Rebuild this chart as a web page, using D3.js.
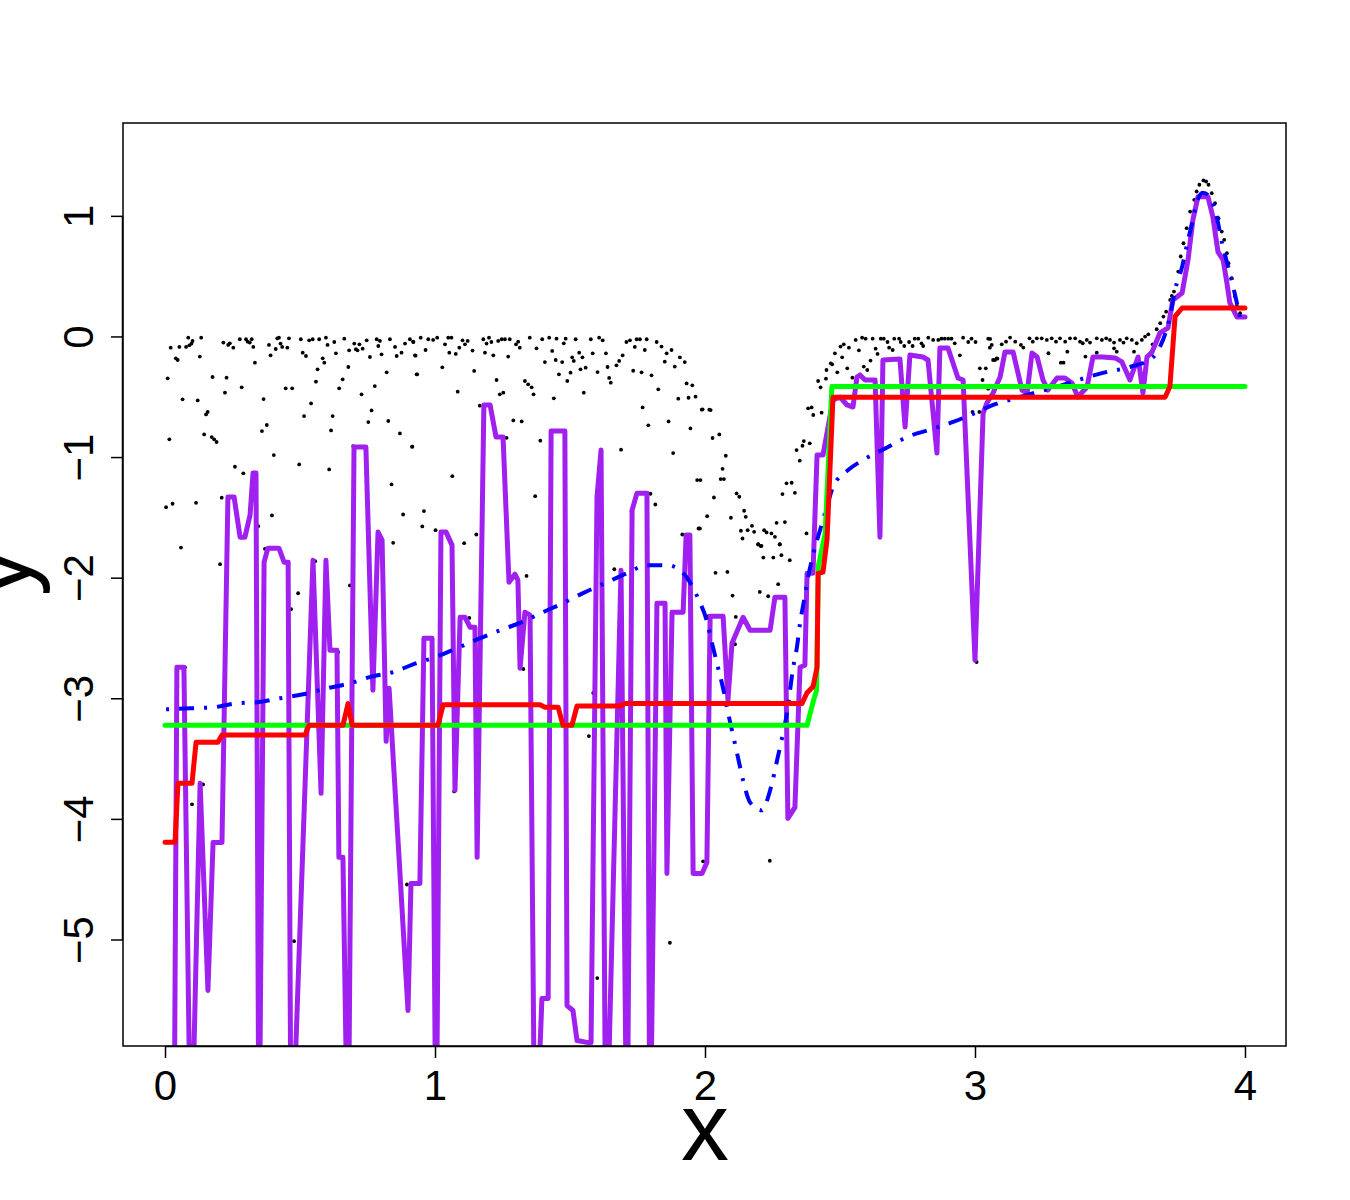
<!DOCTYPE html>
<html>
<head>
<meta charset="utf-8">
<script src="https://cdn.jsdelivr.net/npm/d3@7"></script>
<style>
  body { margin: 0; background: #fff; }
  svg { display: block; }
  text { font-family: "Liberation Sans", Arial, sans-serif; }
</style>
</head>
<body>
<div id="chart"></div>
<script>
// axis ticks
const xTicks = [0, 1, 2, 3, 4];
const yTicks = [-5, -4, -3, -2, -1, 0, 1];

// black points (x, y)
const scatterPts = [
  [0.021,-0.089],[0.040,-0.177],[0.047,-0.191],[0.053,-0.083],[0.078,-0.083],[0.086,-0.006],[0.090,-0.069],[0.098,-0.055],
  [0.102,-0.033],[0.129,-0.163],[0.134,-0.006],[0.216,-0.047],[0.234,-0.066],[0.240,-0.053],[0.253,-0.089],[0.277,-0.019],
  [0.300,-0.019],[0.306,-0.039],[0.314,-0.047],[0.321,-0.019],[0.327,-0.083],[0.333,-0.213],[0.385,-0.066],[0.391,-0.152],
  [0.410,-0.100],[0.416,-0.011],[0.422,-0.006],[0.428,-0.055],[0.434,-0.083],[0.453,-0.089],[0.459,-0.011],[0.503,-0.019],
  [0.510,-0.130],[0.522,-0.158],[0.534,-0.028],[0.547,-0.019],[0.571,-0.019],[0.584,-0.177],[0.590,-0.213],[0.596,-0.006],
  [0.602,-0.066],[0.627,-0.042],[0.633,-0.136],[0.664,-0.014],[0.682,-0.111],[0.701,-0.055],[0.707,-0.102],[0.713,-0.111],
  [0.720,-0.061],[0.732,-0.097],[0.747,-0.028],[0.759,-0.166],[0.784,-0.019],[0.790,-0.075],[0.796,-0.033],[0.802,-0.144],
  [0.833,-0.019],[0.852,-0.083],[0.858,-0.158],[0.876,-0.130],[0.889,-0.055],[0.907,-0.019],[0.920,-0.042],[0.926,-0.152],
  [0.010,-0.343],[0.065,-0.517],[0.121,-0.526],[0.152,-0.642],[0.158,-0.622],[0.176,-0.332],[0.222,-0.462],[0.228,-0.338],
  [0.284,-0.418],[0.365,-0.515],[0.447,-0.426],[0.471,-0.426],[0.541,-0.551],[0.515,-0.656],[0.559,-0.371],[0.565,-0.268],
  [0.621,-0.656],[0.645,-0.426],[0.658,-0.351],[0.679,-0.249],[0.728,-0.476],[0.765,-0.609],[0.777,-0.407],[0.821,-0.293],
  [0.753,-0.706],[0.827,-0.697],[0.932,-0.310],
  [0.016,-0.849],[0.145,-0.808],[0.173,-0.830],[0.182,-0.849],[0.191,-0.871],[0.359,-0.780],[0.377,-0.730],[0.403,-0.979],
  [0.497,-1.057],[0.608,-1.098],[0.615,-0.775],[0.697,-0.905],[0.870,-0.800],[0.915,-0.910],[0.259,-1.076],[0.290,-1.131],
  [0.004,-1.411],[0.028,-1.383],[0.115,-1.375],[0.210,-1.333],[0.265,-1.472],[0.345,-1.569],[0.396,-1.480],[0.370,-1.757],
  [0.059,-1.746],[0.839,-1.223],[0.882,-1.472],[0.845,-1.707],
  [0.204,-1.884],[0.493,-2.125],[0.467,-2.257],[0.341,-2.382],[0.641,-2.614],[0.074,-2.739],[0.819,-3.353],[0.141,-3.710],
  [0.556,-1.859],[0.685,-2.060],[0.100,-3.875],[0.478,-5.010],[0.896,-4.540],
  [0.919,-0.039],[0.928,-0.155],[0.947,-0.006],[0.965,-0.108],[0.975,-0.019],[0.993,-0.025],[1.008,-0.006],[1.037,-0.061],
  [1.049,-0.006],[1.053,-0.130],[1.061,-0.006],[1.077,-0.141],[1.090,-0.089],[1.102,-0.028],[1.111,-0.061],[1.121,-0.033],
  [1.139,-0.113],[1.179,-0.019],[1.185,-0.130],[1.191,-0.055],[1.200,-0.006],[1.209,-0.042],[1.216,-0.152],[1.234,-0.033],
  [1.247,-0.019],[1.259,-0.019],[1.271,-0.163],[1.277,-0.019],[1.300,-0.061],[1.308,-0.039],[1.314,-0.089],[1.351,-0.006],
  [1.376,-0.094],[1.397,-0.019],[1.423,-0.006],[1.434,-0.116],[1.450,-0.014],[1.477,-0.053],[1.484,-0.014],[1.508,-0.169],
  [1.514,-0.199],[1.521,-0.019],[1.534,-0.130],[1.546,-0.169],[1.577,-0.019],[1.584,-0.136],[1.608,-0.006],[1.621,-0.028],
  [1.633,-0.136],[1.639,-0.249],[1.672,-0.235],[1.682,-0.199],[1.695,-0.152],[1.709,-0.042],[1.722,-0.028],[1.740,-0.083],
  [1.747,-0.019],[1.759,-0.019],[1.777,-0.108],[1.784,-0.019],[1.821,-0.042],[1.839,-0.080],[1.858,-0.136],[1.876,-0.108],
  [1.851,-0.205],[1.888,-0.246],[1.907,-0.169],[1.925,-0.208],
  [0.934,-0.310],[1.027,-0.252],[1.084,-0.454],[1.145,-0.282],[1.228,-0.357],[1.240,-0.476],[1.253,-0.462],[1.333,-0.365],
  [1.345,-0.393],[1.358,-0.418],[1.365,-0.476],[1.407,-0.208],[1.447,-0.191],[1.459,-0.310],[1.471,-0.208],[1.490,-0.365],
  [1.502,-0.296],[1.539,-0.268],[1.551,-0.462],[1.558,-0.255],[1.602,-0.291],[1.645,-0.340],[1.651,-0.379],[1.734,-0.280],
  [1.765,-0.293],[1.802,-0.318],[1.827,-0.434],[1.901,-0.512],[1.932,-0.385],[1.953,-0.401],[1.939,-0.504],[1.965,-0.495],
  [1.988,-0.603],[2.016,-0.603],
  [0.916,-0.910],[1.166,-0.570],[1.265,-0.836],[1.290,-0.692],[1.321,-0.700],[1.390,-0.860],[1.440,-0.509],[1.769,-0.584],
  [1.790,-0.733],[1.865,-0.700],[1.946,-0.758],[1.882,-0.963],[1.689,-0.935],[1.064,-1.154],[1.371,-1.320],[0.959,-1.444],
  [0.953,-1.571],[1.002,-1.602],[1.108,-1.710],[1.153,-1.638],[1.971,-1.187],[1.983,-1.187],[2.008,-1.486],[1.976,-1.588],
  [1.816,-1.389],[1.798,-1.300],[1.728,-1.447],[1.916,-1.638],
  [1.339,-1.981],[1.127,-2.330],[1.664,-1.926],[2.012,-2.316],[1.327,-2.753],[1.586,-2.952],[1.570,-3.309],[1.071,-3.768],
  [1.870,-5.023],[1.601,-5.316],[1.993,-4.348],
  [1.991,-0.600],[2.021,-0.606],[2.028,-0.838],[2.053,-0.808],[2.077,-0.985],[2.065,-1.093],[2.058,-1.178],[2.070,-1.178],
  [2.033,-1.331],[1.981,-1.588],[2.096,-1.499],[2.117,-1.297],[2.127,-1.325],[2.145,-1.441],[2.151,-1.491],
  [2.133,-1.607],[2.158,-1.602],[2.174,-1.566],[2.182,-1.616],[2.219,-1.602],[2.228,-1.621],[2.246,-1.629],[2.259,-1.657],
  [2.265,-1.541],[2.296,-1.535],[2.277,-1.721],[2.139,-1.671],[2.197,-1.721],[2.207,-1.735],[2.287,-1.303],[2.302,-1.214],
  [2.321,-1.209],[2.333,-1.292],[2.351,-1.026],[2.339,-0.938],[2.361,-0.902],[2.366,-0.863],[2.388,-0.882],[2.376,-1.629],
  [2.382,-0.592],[2.395,-0.584],[2.401,-0.647],[2.432,-0.628],[2.419,-0.365],[2.428,-0.418],[2.448,-0.346],[2.450,-0.274],
  [2.466,-0.219],[2.471,-0.227],[2.481,-0.136],[2.490,-0.293],[2.508,-0.169],[2.502,-0.080],[2.514,-0.061],[2.527,-0.260],
  [2.533,-0.089],[2.546,-0.338],[2.558,-0.025],[2.570,-0.111],[2.582,-0.006],[2.595,-0.014],[2.601,-0.274],[2.588,-0.246],
  [2.613,-0.196],[2.621,-0.014],[2.632,-0.097],[2.639,-0.141],[2.651,-0.014],[2.662,-0.014],[2.676,-0.042],[2.682,-0.089],
  [2.695,-0.108],[2.701,-0.014],[2.719,-0.014],[2.725,-0.042],[2.738,-0.075],[2.756,-0.042],[2.769,-0.075],[2.777,-0.014],
  [2.790,-0.014],[2.802,-0.053],[2.808,-0.075],[2.827,-0.006],[2.845,-0.025],[2.864,-0.025],[2.876,-0.014],[2.888,-0.014],
  [2.901,-0.014],[2.913,-0.014],[2.925,-0.053],[2.944,-0.152],[2.956,-0.006],[2.975,-0.042],[2.987,-0.014],[3.002,-0.042],
  [3.018,-0.260],[3.040,-0.260],[3.028,-0.357],[3.049,-0.014],[3.055,-0.089],[3.067,-0.191],[3.080,-0.177],[2.991,-0.622],
  [3.016,-0.622],[3.049,-0.429],
  [2.197,-1.718],[2.209,-1.732],[2.277,-1.718],[2.216,-1.829],[2.253,-1.829],[2.283,-1.809],[2.314,-1.851],[2.039,-1.956],
  [2.083,-1.948],[2.271,-2.050],[2.203,-2.114],[2.234,-2.150],[2.102,-2.144],[2.012,-2.316],[2.114,-2.321],[2.111,-2.548],
  [3.000,-2.191],[3.006,-2.695],[2.240,-4.343],
  [3.056,-0.016],[3.062,-0.066],[3.074,-0.191],[3.083,-0.180],[3.099,-0.061],[3.115,-0.039],[3.130,-0.005],[3.149,-0.039],
  [3.170,-0.066],[3.179,-0.088],[3.202,-0.011],[3.214,-0.039],[3.229,-0.011],[3.247,-0.011],[3.266,-0.025],[3.272,-0.135],
  [3.284,-0.011],[3.300,-0.039],[3.315,-0.011],[3.318,-0.213],[3.328,-0.213],[3.334,-0.039],[3.342,-0.122],[3.352,-0.011],
  [3.371,-0.011],[3.389,-0.039],[3.399,-0.052],[3.414,-0.025],[3.409,-0.163],[3.426,-0.047],[3.451,-0.011],[3.451,-0.130],
  [3.470,-0.025],[3.486,-0.011],[3.500,-0.025],[3.515,-0.047],[3.515,-0.094],[3.525,-0.122],[3.537,-0.025],[3.550,-0.047],
  [3.562,-0.011],[3.581,-0.025],[3.589,-0.122],[3.599,-0.052],[3.618,-0.025],[3.630,0.003],[3.642,0.022],[3.658,-0.061],
  [3.673,0.064],[3.686,0.114],[3.698,0.169],[3.708,0.210],[3.723,0.307],[3.729,0.340],[3.737,0.376],[3.753,0.542],
  [3.762,0.667],[3.772,0.777],[3.784,0.902],[3.797,1.040],[3.812,1.137],[3.821,1.206],[3.831,1.262],[3.846,1.298],
  [3.856,1.289],[3.865,1.262],[3.877,1.192],[3.889,1.109],[3.902,0.985],[3.914,0.874],[3.923,0.805],[3.933,0.694],
  [3.939,0.611],[3.951,0.487],[3.963,0.335],[3.970,0.257],[3.982,0.197],[3.994,0.169]
];

// purple series (values below the frame are clipped)
const purpleX = [0.033,0.044,0.070,0.096,0.130,0.159,0.178,0.211,0.233,0.256,0.278,0.296,0.315,0.326,0.337,0.348,
  0.367,0.381,0.422,0.441,0.456,0.467,0.548,0.578,0.596,0.611,0.637,0.644,0.659,0.678,0.700,0.744,0.770,0.789,0.804,
  0.819,0.830,0.900,0.911,0.944,0.959,0.989,1.004,1.022,1.041,1.063,1.074,1.093,1.111,1.130,1.148,1.156,1.181,1.204,
  1.226,1.252,1.274,1.296,1.307,1.315,1.333,1.352,1.370,1.396,1.419,1.430,1.481,1.489,1.511,1.526,1.567,1.578,1.600,
  1.615,1.633,1.689,1.711,1.730,1.748,1.785,1.796,1.822,1.852,1.859,1.878,1.919,1.930,1.944,1.956,1.989,2.007,2.019,
  2.067,2.085,2.100,2.141,2.167,2.241,2.259,2.296,2.307,2.333,2.352,2.370,2.378,2.400,2.415,2.437,2.474,2.500,2.526,
  2.548,2.563,2.574,2.593,2.630,2.648,2.659,2.722,2.741,2.759,2.807,2.826,2.859,2.870,2.900,2.937,2.956,3.000,3.030,
  3.044,3.067,3.093,3.111,3.141,3.174,3.193,3.211,3.230,3.252,3.270,3.304,3.333,3.359,3.381,3.415,3.437,3.474,3.519,
  3.544,3.574,3.604,3.622,3.637,3.656,3.685,3.715,3.733,3.767,3.789,3.807,3.826,3.863,3.881,3.900,3.919,3.933,3.944,
  3.970,4.000];
const purpleY = [-7,-2.739,-2.739,-7,-3.701,-5.419,-4.191,-4.191,-1.328,-1.328,-1.660,-1.660,-1.477,-1.129,-1.129,-7,
  -1.867,-1.751,-1.751,-1.867,-1.867,-7,-1.851,-3.784,-1.851,-2.598,-2.598,-4.315,-4.315,-7,-0.913,-0.913,-2.929,-1.618,-1.685,
  -3.353,-2.913,-5.585,-4.531,-4.531,-2.498,-2.498,-7,-1.618,-1.618,-1.726,-3.759,-2.324,-2.324,-2.407,-2.407,-4.315,-0.564,-0.564,
  -0.830,-0.830,-2.033,-1.967,-2.017,-2.747,-2.282,-2.307,-7,-5.485,-5.485,-0.780,-0.780,-5.544,-5.585,-5.834,-5.851,-5.851,-1.328,
  -0.938,-7,-1.934,-7,-1.436,-1.295,-1.295,-7,-2.207,-2.207,-4.448,-2.282,-2.282,-1.643,-1.643,-4.448,-4.448,-4.357,-2.315,
  -2.315,-3.012,-2.539,-2.324,-2.432,-2.432,-2.158,-2.158,-3.992,-3.900,-2.739,-2.722,-1.959,-1.959,-0.979,-0.979,-0.523,-0.498,-0.564,
  -0.581,-0.332,-0.315,-0.357,-0.357,-1.660,-0.191,-0.183,-0.747,-0.149,-0.166,-0.191,-0.963,-0.091,-0.091,-0.340,-0.357,-2.680,-0.631,
  -0.548,-0.465,-0.332,-0.124,-0.124,-0.440,-0.465,-0.133,-0.166,-0.357,-0.440,-0.340,-0.340,-0.382,-0.498,-0.415,-0.166,-0.166,-0.174,
  -0.207,-0.357,-0.166,-0.465,-0.166,-0.124,0.033,0.075,0.307,0.365,0.639,0.971,1.162,1.162,0.996,0.705,0.639,0.448,0.282,
  0.166,0.166];

// red series
const redX = [0,0.037,0.048,0.100,0.115,0.196,0.211,0.519,0.533,0.659,0.678,0.693,1.011,1.030,1.389,1.407,1.456,1.474,
  1.507,1.526,1.685,1.704,2.359,2.378,2.400,2.415,2.419,2.437,2.452,2.474,3.704,3.722,3.741,3.767,4.0];
const redY = [-4.19,-4.19,-3.70,-3.70,-3.36,-3.36,-3.30,-3.30,-3.22,-3.22,-3.04,-3.22,-3.22,-3.05,-3.05,-3.07,-3.07,-3.22,
  -3.22,-3.06,-3.06,-3.04,-3.04,-2.95,-2.90,-2.74,-1.96,-1.95,-1.68,-0.50,-0.50,-0.41,0.17,0.24,0.24];

// green series
const greenX = [0, 2.378, 2.400, 2.413, 2.420, 2.445, 2.470, 4.0];
const greenY = [-3.22, -3.22, -3.03, -2.93, -1.90, -1.63, -0.41, -0.41];

// blue dash-dot series
const blueX = [0.004,0.093,0.178,0.267,0.341,0.426,0.511,0.600,0.685,0.770,0.844,0.919,1.0,1.081,1.159,1.241,1.322,1.400,
  1.474,1.548,1.630,1.711,1.785,1.859,1.896,1.937,1.974,2.007,2.026,2.048,2.067,2.085,2.104,2.122,2.141,2.167,2.211,2.230,
  2.248,2.267,2.285,2.304,2.326,2.341,2.352,2.367,2.381,2.400,2.426,2.448,2.474,2.530,2.585,2.678,2.748,2.841,2.919,3.0,
  3.067,3.167,3.233,3.326,3.407,3.489,3.574,3.656,3.685,3.722,3.741,3.767,3.785,3.804,3.822,3.844,3.870,3.896,3.915,3.933,
  3.952,3.970,3.981];
const blueY = [-3.087,-3.079,-3.071,-3.037,-3.029,-2.996,-2.963,-2.913,-2.871,-2.813,-2.780,-2.714,-2.656,-2.581,-2.506,-2.432,
  -2.365,-2.282,-2.207,-2.124,-2.041,-1.959,-1.892,-1.892,-1.917,-2.008,-2.166,-2.357,-2.539,-2.739,-2.913,-3.112,-3.303,-3.485,
  -3.676,-3.859,-3.925,-3.842,-3.701,-3.510,-3.328,-3.112,-2.747,-2.564,-2.373,-2.183,-2.0,-1.809,-1.602,-1.436,-1.245,-1.104,
  -1.021,-0.913,-0.830,-0.763,-0.705,-0.631,-0.564,-0.498,-0.456,-0.398,-0.340,-0.290,-0.249,-0.174,-0.083,0.166,0.390,0.581,
  0.763,0.946,1.120,1.195,1.162,0.988,0.780,0.622,0.456,0.282,0.166];

const W = 1350, H = 1200;
const pl = 123, pr = 1286, pt = 123, pb = 1046;

const svg = d3.select('#chart').append('svg')
    .attr('width', W)
    .attr('height', H);

const x = d3.scaleLinear().domain([-0.1556, 4.1519]).range([pl, pr]);
const y = d3.scaleLinear().domain([-5.879, 1.774]).range([pb, pt]);

svg.append('clipPath').attr('id', 'plotclip')
  .append('rect')
    .attr('x', pl).attr('y', pt)
    .attr('width', pr - pl).attr('height', pb - pt);

const plot = svg.append('g').attr('clip-path', 'url(#plotclip)');

// points
plot.append('g')
  .selectAll('circle')
  .data(scatterPts)
  .join('circle')
    .attr('cx', d => x(d[0]))
    .attr('cy', d => y(d[1]))
    .attr('r', 1.9)
    .attr('fill', '#000');

const line = d3.line().x(d => x(d[0])).y(d => y(d[1]));
const smooth = d3.line().x(d => x(d[0])).y(d => y(d[1])).curve(d3.curveMonotoneX);
const zipXY = (xs, ys) => xs.map((v, i) => [v, ys[i]]);

plot.append('path')
    .datum(zipXY(purpleX, purpleY))
    .attr('d', line)
    .attr('fill', 'none')
    .attr('stroke', '#a020f0')
    .attr('stroke-width', 5)
    .attr('stroke-linejoin', 'round')
    .attr('stroke-linecap', 'round');

plot.append('path')
    .datum(zipXY(blueX, blueY))
    .attr('d', smooth)
    .attr('fill', 'none')
    .attr('stroke', '#0000ff')
    .attr('stroke-width', 4)
    .attr('stroke-dasharray', '3,10,15,10');

plot.append('path')
    .datum(zipXY(greenX, greenY))
    .attr('d', line)
    .attr('fill', 'none')
    .attr('stroke', '#00ff00')
    .attr('stroke-width', 5)
    .attr('stroke-linejoin', 'round')
    .attr('stroke-linecap', 'round');

plot.append('path')
    .datum(zipXY(redX, redY))
    .attr('d', line)
    .attr('fill', 'none')
    .attr('stroke', '#ff0000')
    .attr('stroke-width', 5)
    .attr('stroke-linejoin', 'round')
    .attr('stroke-linecap', 'round');

// frame
svg.append('rect')
    .attr('x', pl).attr('y', pt)
    .attr('width', pr - pl).attr('height', pb - pt)
    .attr('fill', 'none')
    .attr('stroke', '#000')
    .attr('stroke-width', 1.5);

// x axis
const xAxis = svg.append('g')
    .attr('transform', `translate(0,${pb})`)
    .call(d3.axisBottom(x).tickValues(xTicks).tickSize(12).tickPadding(12).tickFormat(d3.format('d')));
xAxis.select('.domain').attr('d', `M${x(0)},0.5H${x(4)}`).attr('stroke-width', 1.5);
xAxis.selectAll('.tick line').attr('stroke-width', 1.5);
xAxis.selectAll('.tick text').attr('font-size', 42).attr('fill', '#000')
    .style('font-family', '"Liberation Sans", Arial, sans-serif');

// y axis
const yAxis = svg.append('g').attr('transform', `translate(${pl},0)`);
yAxis.append('path')
    .attr('d', `M-0.5,${y(-5)}V${y(1)}`)
    .attr('stroke', '#000').attr('stroke-width', 1.5);
yAxis.selectAll('line.tk')
  .data(yTicks)
  .join('line')
    .attr('class', 'tk')
    .attr('x1', 0).attr('x2', -12)
    .attr('y1', d => y(d)).attr('y2', d => y(d))
    .attr('stroke', '#000').attr('stroke-width', 1.5);
yAxis.selectAll('text')
  .data(yTicks)
  .join('text')
    .attr('transform', d => `translate(-30,${y(d)}) rotate(-90)`)
    .attr('text-anchor', 'middle')
    .attr('font-size', 42)
    .text(d => d < 0 ? '\u2212' + Math.abs(d) : d);

// axis titles
svg.append('text')
    .attr('x', x(2))
    .attr('y', 1160)
    .attr('text-anchor', 'middle')
    .attr('font-size', 96)
    .text('x');

svg.append('text')
    .attr('transform', `translate(30,${y(-1.95)}) rotate(-90)`)
    .attr('text-anchor', 'middle')
    .attr('font-size', 96)
    .text('y');
</script>
</body>
</html>
